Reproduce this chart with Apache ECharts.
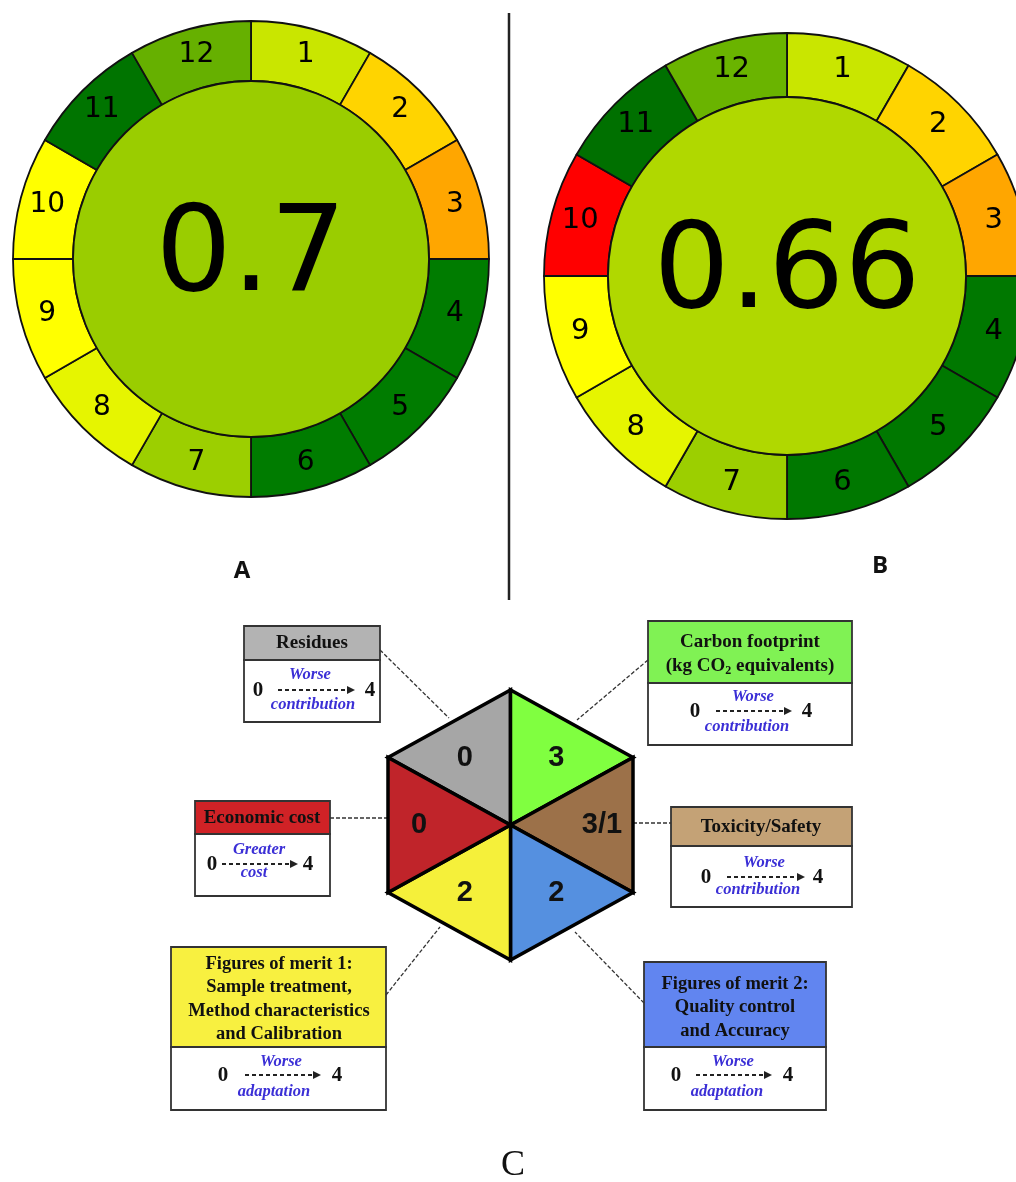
<!DOCTYPE html>
<html>
<head>
<meta charset="utf-8">
<script src="https://cdn.jsdelivr.net/npm/echarts@6/dist/echarts.min.js"></script>
<style>
html,body{margin:0;padding:0;background:#fff;}
#chart{width:1016px;height:1182px;}
</style>
</head>
<body>
<div id="chart"></div>
<script>
// ---------- DATA ----------
const principles = ['1','2','3','4','5','6','7','8','9','10','11','12'];
const weightsA = [1,1,1,1,1,1,1,1,1,1,1,1];
const weightsB = [1,1,1,1,1,1,1,1,1,1,1,1];
const colorsA = ['#c9e600','#ffd400','#ffa600','#007c00','#007c00','#007c00','#9ccf00','#e6f500','#ffff00','#ffff00','#007400','#66b000'];
const colorsB = ['#c9e600','#ffd400','#ffa600','#007800','#007800','#007800','#9ccf00','#e6f500','#ffff00','#ff0000','#007000','#6ab400'];
const scoreA = 0.7;
const scoreB = 0.66;
const centerColorA = '#9acd00';
const centerColorB = '#b0d800';
const panelLabels = ['A','B','C'];

const criteria = ['Residues','Carbon footprint','Toxicity/Safety','Figures of merit 2','Figures of merit 1','Economic cost'];
const hexScores = ['0','3','3/1','2','2','0'];
const hexColors = ['#a6a6a6','#80ff40','#9c7149','#5590e0','#f5f03a','#c0242a'];

// ---------- CHART ----------
const chart = echarts.init(document.getElementById('chart'), null, {renderer:'canvas'});

function ring(center, rIn, rOut, weights, colors, fs){
  return {
    type:'pie', center:center, radius:[rIn,rOut], startAngle:90, clockwise:true,
    silent:true, animation:false, avoidLabelOverlap:false,
    label:{show:true, position:'inside', color:'#000', fontSize:fs, fontFamily:'DejaVu Sans', formatter:'{b}'},
    labelLine:{show:false},
    itemStyle:{borderColor:'#111', borderWidth:1.8},
    emphasis:{disabled:true},
    data: principles.map((p,i)=>({name:p, value:weights[i], itemStyle:{color:colors[i]}}))
  };
}
function core(center, r, score, color, fs){
  return {
    type:'pie', center:center, radius:[0,r], silent:true, animation:false,
    label:{show:true, position:'center', color:'#000', fontSize:fs, fontFamily:'DejaVu Sans', formatter:'{b}'},
    labelLine:{show:false},
    itemStyle:{borderColor:'#111', borderWidth:1.8},
    emphasis:{disabled:true},
    data:[{name:String(score), value:1, itemStyle:{color:color}}]
  };
}

// hexagon vertices (data units), clockwise from upper-left
const HV = [[-1,0.5],[0,1],[1,0.5],[1,-0.5],[0,-1],[-1,-0.5]];

const hexSeries = {
  type:'custom', coordinateSystem:'cartesian2d', silent:true, animation:false,
  data: criteria.map((c,i)=>({name:c, value:[i]})),
  renderItem:function(params, api){
    const i = api.value(0);
    const a = HV[i], b = HV[(i+1)%6];
    const pts = [api.coord([0,0]), api.coord(a), api.coord(b)];
    const lc = api.coord([(a[0]+b[0])/3*1.12, (a[1]+b[1])/3]);
    return {type:'group', children:[
      {type:'polygon', shape:{points:pts}, style:{fill:hexColors[i], stroke:'#000', lineWidth:3.5, lineJoin:'miter'}},
      {type:'text', x:lc[0], y:lc[1], style:{text:hexScores[i], fill:'#111', font:'bold 29px "Liberation Sans", Arial', align:'center', verticalAlign:'middle', textAlign:'center', textVerticalAlign:'middle'}}
    ]};
  }
};

// ---------- annotation boxes ----------
const SERIF = '"Liberation Serif", "Times New Roman", serif';
function txt(s, x, y, font, fill, rich){
  const st = {text:s, x:x, y:y, font:font, fill:fill||'#111', align:'center', verticalAlign:'middle', textAlign:'center', textVerticalAlign:'middle'};
  if(rich) st.rich = rich;
  return {type:'text', silent:true, style:st};
}
function box(b){
  const els = [];
  els.push({type:'rect', shape:{x:b.x, y:b.y, width:b.w, height:b.h2-b.y}, style:{fill:b.color, stroke:'#333', lineWidth:1.8}});
  els.push({type:'rect', shape:{x:b.x, y:b.h2, width:b.w, height:b.bot-b.h2}, style:{fill:'#fff', stroke:'#333', lineWidth:1.8}});
  b.lines.forEach((l,k)=>{
    els.push(txt(l, b.cx, b.ly[k], 'bold ' + (b.fs||19) + 'px '+SERIF, '#111', b.rich));
  });
  els.push(txt('0', b.zx, b.ay+1, 'bold 21px '+SERIF, '#111'));
  els.push(txt('4', b.fx, b.ay+1, 'bold 21px '+SERIF, '#111'));
  els.push({type:'line', silent:true, shape:{x1:b.a1, y1:b.ay, x2:b.a2-5, y2:b.ay}, style:{stroke:'#222', lineWidth:1.8, lineDash:[4,3]}});
  els.push({type:'polygon', silent:true, shape:{points:[[b.a2-8,b.ay-4],[b.a2,b.ay],[b.a2-8,b.ay+4]]}, style:{fill:'#222'}});
  els.push(txt(b.up, b.ux, b.uy, 'italic bold 16.5px '+SERIF, '#3b2fd6'));
  els.push(txt(b.dn, b.dx, b.dy, 'italic bold 16.5px '+SERIF, '#3b2fd6'));
  els.push({type:'line', silent:true, shape:{x1:b.c[0], y1:b.c[1], x2:b.c[2], y2:b.c[3]}, style:{stroke:'#333', lineWidth:1.3, lineDash:[4,2]}});
  return els;
}

const boxes = [
  {x:244, y:626, w:136, h2:660, bot:722, color:'#b3b3b3', cx:312, lines:['Residues'], ly:[643],
   zx:258, fx:370, a1:278, a2:355, ay:690, up:'Worse', ux:310, uy:675, dn:'contribution', dx:313, dy:705, c:[380,650,449,718]},
  {x:195, y:801, w:135, h2:834, bot:896, color:'#d02226', cx:262, lines:['Economic cost'], ly:[818],
   zx:212, fx:308, a1:222, a2:298, ay:864, up:'Greater', ux:259, uy:850, dn:'cost', dx:254, dy:873, c:[330,818,388,818]},
  {x:648, y:621, w:204, h2:683, bot:745, color:'#80f254', cx:750, lines:['Carbon footprint','(kg CO{s|2} equivalents)'], ly:[642,666],
   rich:{s:{font:'bold 12px '+SERIF, fill:'#111', padding:[9,0,0,0]}},
   zx:695, fx:807, a1:716, a2:792, ay:711, up:'Worse', ux:753, uy:697, dn:'contribution', dx:747, dy:727, c:[648,660,577,720]},
  {x:671, y:807, w:181, h2:846, bot:907, color:'#c4a276', cx:761, lines:['Toxicity/Safety'], ly:[827],
   zx:706, fx:818, a1:727, a2:805, ay:877, up:'Worse', ux:764, uy:863, dn:'contribution', dx:758, dy:890, c:[633,823,671,823]},
  {x:171, y:947, w:215, h2:1047, bot:1110, color:'#f8f040', cx:279, fs:18.5, lines:['Figures of merit 1:','Sample treatment,','Method characteristics','and Calibration'], ly:[964,987,1011,1034],
   zx:223, fx:337, a1:245, a2:321, ay:1075, up:'Worse', ux:281, uy:1062, dn:'adaptation', dx:274, dy:1092, c:[386,995,440,927]},
  {x:644, y:962, w:182, h2:1047, bot:1110, color:'#6185f0', cx:735, fs:18.5, lines:['Figures of merit 2:','Quality control','and Accuracy'], ly:[984,1007,1031],
   zx:676, fx:788, a1:696, a2:772, ay:1075, up:'Worse', ux:733, uy:1062, dn:'adaptation', dx:727, dy:1092, c:[644,1003,575,932]}
];

let graphics = [];
boxes.forEach(b=>{ graphics = graphics.concat(box(b)); });
graphics.push({type:'line', silent:true, shape:{x1:509, y1:13, x2:509, y2:600}, style:{stroke:'#222', lineWidth:2.5}});
graphics.push(txt(panelLabels[0], 242, 571, 'bold 24px "Open Sans", Arial', '#111'));
graphics.push(txt(panelLabels[1], 880, 566, 'bold 24px "Open Sans", Arial', '#111'));
graphics.push(txt(panelLabels[2], 513, 1166, '36px '+SERIF, '#111'));

chart.setOption({
  animation:false,
  backgroundColor:'#fff',
  grid:{left:388, top:690, width:245, height:270, show:false},
  xAxis:{type:'value', min:-1, max:1, show:false},
  yAxis:{type:'value', min:-1, max:1, show:false},
  series:[
    ring([251,259], 178, 238, weightsA, colorsA, 28),
    core([251,259], 178, scoreA, centerColorA, 120),
    ring([787,276], 179, 243, weightsB, colorsB, 29),
    core([787,276], 179, scoreB, centerColorB, 120),
    hexSeries
  ],
  graphic:{elements:graphics}
});
</script>
</body>
</html>
